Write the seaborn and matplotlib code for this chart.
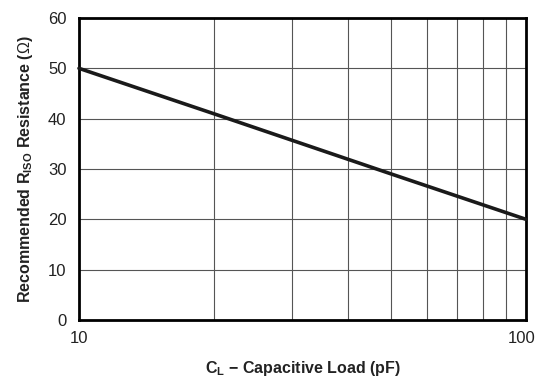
import matplotlib
matplotlib.use("Agg")
import matplotlib.pyplot as plt
import matplotlib.transforms as mtransforms
import seaborn as sns
import pandas as pd

# Recommended isolation resistance vs capacitive load
load_pf = [10, 20, 50, 100]
r_iso_ohm = [50, 41, 29, 20]

x_ticks = [10, 100]
x_tick_labels = ["10", "100"]
y_ticks = [0, 10, 20, 30, 40, 50, 60]

sns.set_theme(style="white")
plt.rcParams["font.family"] = ["Liberation Sans", "DejaVu Sans"]
plt.rcParams["mathtext.fontset"] = "custom"
plt.rcParams["mathtext.rm"] = "Liberation Sans"
plt.rcParams["mathtext.bf"] = "Liberation Sans:bold"

df = pd.DataFrame({"C": load_pf, "R": r_iso_ohm})

fig = plt.figure(figsize=(5.38, 3.78), dpi=100)
ax = fig.add_axes([0.1468, 0.1534, 0.8309, 0.7990])

ax.set_xscale("log")
ax.set_xlim(10, 100)
ax.set_ylim(0, 60)

# grid at every decade subdivision and every 10 ohms
for v in range(20, 100, 10):
    ax.axvline(v, color="#555555", lw=0.8, zorder=1)
for v in y_ticks[1:-1]:
    ax.axhline(v, color="#555555", lw=0.8, zorder=1)

sns.lineplot(data=df, x="C", y="R", ax=ax, color="#1a1a1a", lw=2.6,
             zorder=3, clip_on=False)

ax.set_xticks(x_ticks)
ax.set_xticklabels(x_tick_labels)
ax.xaxis.set_minor_locator(matplotlib.ticker.NullLocator())
ax.set_yticks(y_ticks)
ax.tick_params(axis="both", labelsize=12, colors="#222222", length=0, pad=9)
ax.tick_params(axis="x", pad=8)

# keep the right-most x label inside the canvas
last = ax.get_xticklabels()[-1]
last.set_transform(last.get_transform() +
                   mtransforms.ScaledTranslation(-4 / 100, 0, fig.dpi_scale_trans))

for s in ax.spines.values():
    s.set_visible(True)
    s.set_color("black")
    s.set_linewidth(2.0)

ax.set_xlabel(r"C$_\mathregular{L}$ − Capacitive Load (pF)", fontsize=11.5,
              fontweight="bold", color="#222222", labelpad=9)
ax.set_ylabel(r"Recommended R$_\mathbf{ISO}$ Resistance ($\Omega$)", fontsize=11.5,
              fontweight="bold", color="#222222", labelpad=9)

fig.savefig("out.png", dpi=100)
